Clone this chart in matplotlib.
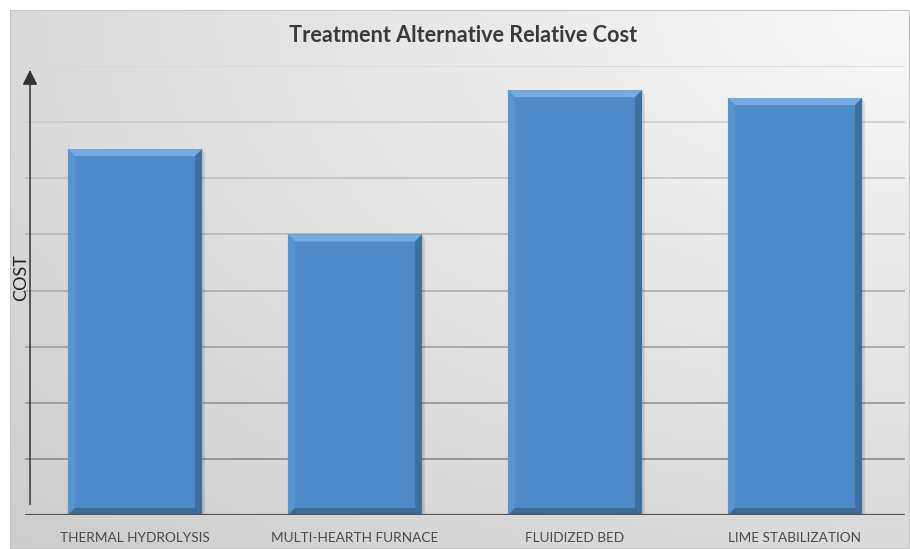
import numpy as np
import matplotlib
matplotlib.use("Agg")
import matplotlib.pyplot as plt
from matplotlib.patches import Polygon

categories = ["THERMAL HYDROLYSIS", "MULTI-HEARTH FURNACE", "FLUIDIZED BED", "LIME STABILIZATION"]
cost = [6.52, 5.0, 7.57, 7.43]
grid_levels = [1, 2, 3, 4, 5, 6, 7, 8]
title = "Treatment Alternative Relative Cost"
ylabel = "COST"

W, H = 910, 549
FACE = "#4f8bc8"
FONT = ["Lato", "DejaVu Sans"]

fig = plt.figure(figsize=(W / 100, H / 100), dpi=100)
fig.patch.set_facecolor("white")

# gradient backdrop (light top-right -> darker lower-left)
bg = fig.add_axes([10 / W, 0, 1 - 10 / W, 1 - 10 / H])
gx, gy = np.meshgrid(np.linspace(0, 1, 300), np.linspace(0, 1, 200))
d = np.hypot(1 - gx, 1 - gy) / np.sqrt(2)
shade = 0.975 - 0.17 * d
bg.imshow(np.dstack([shade] * 3), extent=[0, 1, 0, 1], origin="lower", aspect="auto")
bg.set_axis_off()
bg.add_patch(plt.Rectangle((0, 0), 1, 1, fill=False, ec="#c4c4c4", lw=1.5, transform=bg.transAxes))

ax = fig.add_axes([25 / W, 1 - 515 / H, 880 / W, (515 - 66) / H])
ax.patch.set_alpha(0)
x = np.arange(len(categories))
ax.set_xlim(-0.5, len(categories) - 0.5)
ax.set_ylim(0, 8)

# gridlines, lighter toward the top like the reference
for i, g in enumerate(grid_levels):
    c = 0.52 + 0.32 * i / (len(grid_levels) - 1)
    ax.axhline(g, color=(c, c, c), lw=1.1, zorder=1)
ax.axhline(0, color="#555555", lw=1.6, zorder=5)

bw = 0.61
bars = ax.bar(x, cost, width=bw, color=FACE, zorder=3)

# bevel edges on each bar
bx, by = 7 / 220, 7 / 56
for b in bars:
    x0, x1, h = b.get_x(), b.get_x() + b.get_width(), b.get_height()
    ax.add_patch(Polygon([(x1 + 0.012, 0), (x1 + 0.012, h - 0.08), (x1, h), (x1, 0)],
                         color="#000000", alpha=0.12, lw=0, zorder=2))
    ax.add_patch(Polygon([(x0, h), (x1, h), (x1 - bx, h - by), (x0 + bx, h - by)],
                         color="#78aadc", lw=0, zorder=4))
    ax.add_patch(Polygon([(x0, 0), (x0, h), (x0 + bx, h - by), (x0 + bx, by)],
                         color="#5a94cf", lw=0, zorder=4))
    ax.add_patch(Polygon([(x1, 0), (x1, h), (x1 - bx, h - by), (x1 - bx, by)],
                         color="#3f6f9f", lw=0, zorder=4))
    ax.add_patch(Polygon([(x0, 0), (x1, 0), (x1 - bx, by), (x0 + bx, by)],
                         color="#3c6a98", lw=0, zorder=4))

# y arrow
ax.annotate("", xy=(-0.5 + 5 / 220, 7.98), xytext=(-0.5 + 5 / 220, 0.14),
            arrowprops=dict(arrowstyle="-|>,head_length=0.9,head_width=0.45", color="#333333", lw=1.1),
            annotation_clip=False, zorder=6)

ax.set_xticks(x)
ax.set_xticklabels(categories, fontsize=9.8, color="#4a4a4a", family=FONT)
ax.tick_params(axis="x", length=0, pad=12)
ax.set_yticks([])
for s in ax.spines.values():
    s.set_visible(False)

fig.text(21 / W, 1 - 278 / H, ylabel, rotation=90, ha="center", va="center",
         fontsize=13, color="#222222", family=FONT)
fig.text(463 / W, 1 - 36 / H, title, ha="center", va="center", fontsize=15.6,
         fontweight="bold", color="#3a3a3a", family=FONT)

fig.savefig("out.png", dpi=100)
